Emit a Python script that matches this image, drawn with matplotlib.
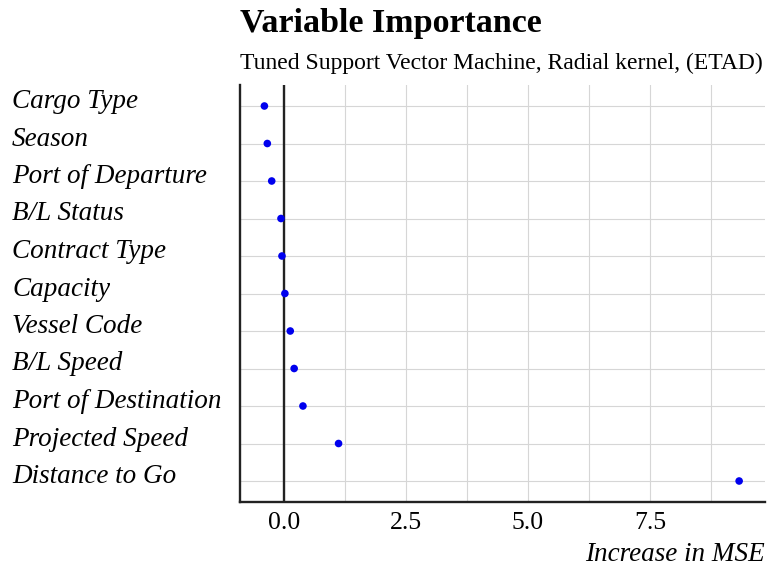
import matplotlib
matplotlib.use("Agg")
import matplotlib.pyplot as plt
import matplotlib.transforms as mtransforms
import numpy as np

variables = ["Cargo Type", "Season", "Port of Departure", "B/L Status", "Contract Type",
             "Capacity", "Vessel Code", "B/L Speed", "Port of Destination",
             "Projected Speed", "Distance to Go"]
importance = [-0.40, -0.34, -0.25, -0.06, -0.04, 0.02, 0.13, 0.21, 0.39, 1.12, 9.33]
xticks = [0.0, 2.5, 5.0, 7.5]
xtick_labels = ["0.0", "2.5", "5.0", "7.5"]

plt.rcParams['font.family'] = ['Liberation Serif', 'DejaVu Serif']

fig = plt.figure(figsize=(7.72, 5.67), dpi=100)
ax = fig.add_axes([240/772, 1-502/567, (765-240)/772, (502-85)/567])

ypos = np.arange(len(variables))
ax.scatter(importance, ypos, s=30, color='#0000ee', zorder=4, edgecolors='none')
ax.axvline(0, color='#222222', lw=1.7, zorder=3)

ax.set_xlim(-0.90, 9.86)
ax.set_ylim(len(variables) - 0.44, -0.56)

ax.set_xticks(xticks)
ax.set_xticklabels(xtick_labels, fontsize=18.5)
ax.set_xticks(np.arange(1.25, 9.86, 2.5), minor=True)
ax.set_yticks(ypos)
ax.set_yticklabels([])
ax.tick_params(axis='both', which='both', length=0, pad=7)
ax.grid(True, which='both', color='#d6d6d6', lw=0.8, zorder=0)

for s in ['top', 'right']:
    ax.spines[s].set_visible(False)
for s in ['left', 'bottom']:
    ax.spines[s].set_linewidth(1.7)
    ax.spines[s].set_color('#222222')

trans = mtransforms.blended_transform_factory(fig.transFigure, ax.transData) + \
    mtransforms.ScaledTranslation(0, -2/100, fig.dpi_scale_trans)
for y, name in zip(ypos, variables):
    ax.text(12/772, y, name, transform=trans, ha='left', va='baseline',
            fontsize=19.5, style='italic')

fig.text(240/772, 1-32/567, "Variable Importance", fontsize=24.5, fontweight='bold',
         ha='left', va='baseline')
fig.text(240/772, 1-69/567, "Tuned Support Vector Machine, Radial kernel, (ETAD)",
         fontsize=17, ha='left', va='baseline')
fig.text(765/772, 1-561/567, "Increase in MSE", fontsize=19.5, style='italic',
         ha='right', va='baseline')

fig.savefig("out.png", dpi=100)
